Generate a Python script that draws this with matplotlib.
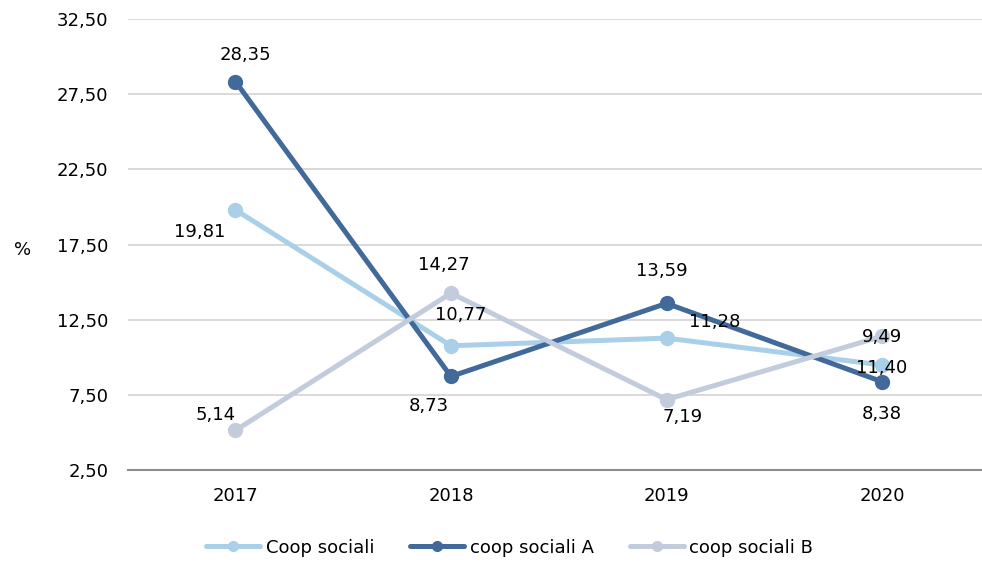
import matplotlib.pyplot as plt
import numpy as np

years = ['2017', '2018', '2019', '2020']
coop_sociali = [19.81, 10.77, 11.28, 9.49]
coop_a = [28.35, 8.73, 13.59, 8.38]
coop_b = [5.14, 14.27, 7.19, 11.40]

names = ['Coop sociali', 'coop sociali A', 'coop sociali B']
colors = ['#A9D0E8', '#41699A', '#C3CCDD']

# label offsets in pixels (as in the reference layout)
offs = [
    [(-36, -22), (10, 31), (48, 16), (0, 28)],
    [(10, 27), (-22, -30), (-5, 32), (0, -32)],
    [(-20, 15), (-7, 28), (16, -17), (0, -32)],
]

plt.rcParams['font.family'] = 'DejaVu Sans'

fig = plt.figure(figsize=(9.82, 5.63), dpi=100)
ax = fig.add_axes([0.130, 0.165, 0.878, 0.801])

x = np.arange(len(years))
series = [coop_sociali, coop_a, coop_b]
for vals, name, c, off in zip(series, names, colors, offs):
    ax.plot(x, vals, color=c, lw=3.6, marker='o', ms=10, label=name,
            solid_capstyle='round')
    for xi, v, o in zip(x, vals, off):
        ax.annotate(f'{v:.2f}'.replace('.', ','), (xi, v), xytext=o,
                    textcoords='offset pixels', ha='center', va='center',
                    fontsize=13, color='#000000')

ax.set_xlim(-0.5, 3.5)
ax.set_ylim(2.5, 32.5)
yt = np.arange(2.5, 33, 5)
ax.set_yticks(yt)
ax.set_yticklabels([f'{t:.2f}'.replace('.', ',') for t in yt])
ax.set_xticks(x)
ax.set_xticklabels(years)
ax.tick_params(length=0, labelsize=13, colors='#000000')
ax.tick_params(axis='y', pad=14)
ax.tick_params(axis='x', pad=12)

ax.grid(axis='y', color='#D9D9D9', lw=1.4)
ax.set_axisbelow(True)
for s in ['top', 'right', 'left']:
    ax.spines[s].set_visible(False)
ax.spines['bottom'].set_color('#8C8C8C')
ax.spines['bottom'].set_linewidth(1.5)

fig.text(0.014, 0.556, '%', fontsize=13, ha='left', va='center')

fig.legend(*ax.get_legend_handles_labels(), loc='center',
           bbox_to_anchor=(0.519, 0.027), ncol=3, frameon=False,
           fontsize=13, handlelength=3.0, handletextpad=0.3,
           columnspacing=2.0, markerscale=0.7)

fig.savefig('out.png', dpi=100)
